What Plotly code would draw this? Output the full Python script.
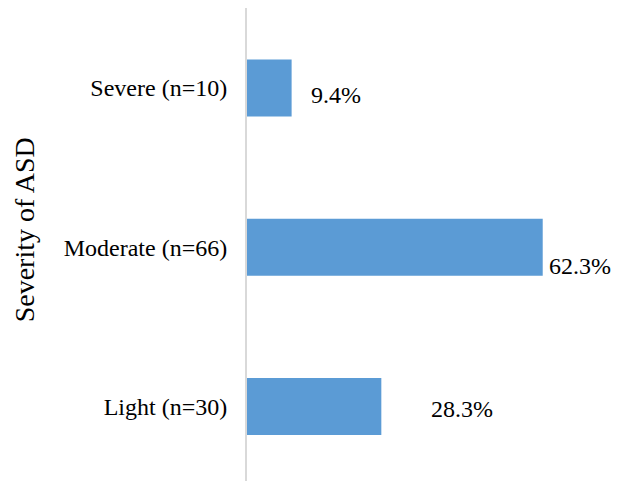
import plotly.graph_objects as go

# Data
categories = ["Severe (n=10)", "Moderate (n=66)", "Light (n=30)"]
percentages = [9.4, 62.3, 28.3]
value_labels = ["9.4%", "62.3%", "28.3%"]

# Styling (label placement offsets, in axis units / pixels)
label_x_offsets = [3.6, 1.0, 10.0]
label_y_shifts = [-7, -19, -3]

FONT = "Liberation Serif"
BAR_COLOR = "#5B9BD5"

fig = go.Figure()
fig.add_trace(go.Bar(
    x=percentages,
    y=list(range(len(categories))),
    orientation="h",
    marker=dict(color=BAR_COLOR, line=dict(width=0)),
    width=0.358,
    hoverinfo="skip",
))

for i, (v, lab) in enumerate(zip(percentages, value_labels)):
    fig.add_annotation(
        x=v + label_x_offsets[i], y=i, xref="x", yref="y",
        text=lab, showarrow=False, xanchor="left", yanchor="middle",
        yshift=label_y_shifts[i],
        font=dict(family=FONT, size=24, color="#000000"),
    )

fig.add_annotation(
    xref="paper", yref="paper", x=-0.625, y=0.531,
    text="Severity of ASD", textangle=-90, showarrow=False,
    xanchor="center", yanchor="middle",
    font=dict(family=FONT, size=28, color="#000000"),
)

fig.update_layout(
    width=616, height=473,
    margin=dict(l=239, r=21, t=0, b=0),
    paper_bgcolor="white", plot_bgcolor="white",
    showlegend=False,
    font=dict(family=FONT, color="#000000"),
    xaxis=dict(range=[0, 75], visible=False, showgrid=False, zeroline=False),
    yaxis=dict(
        range=[2.468, -0.502],
        tickmode="array",
        tickvals=list(range(len(categories))),
        ticktext=categories,
        tickfont=dict(family=FONT, size=24, color="#000000"),
        showline=True, linecolor="#D9D9D9", linewidth=2,
        showgrid=False, zeroline=False, ticks="",
        ticklabelstandoff=13,
    ),
)

fig.write_html("out.html")
